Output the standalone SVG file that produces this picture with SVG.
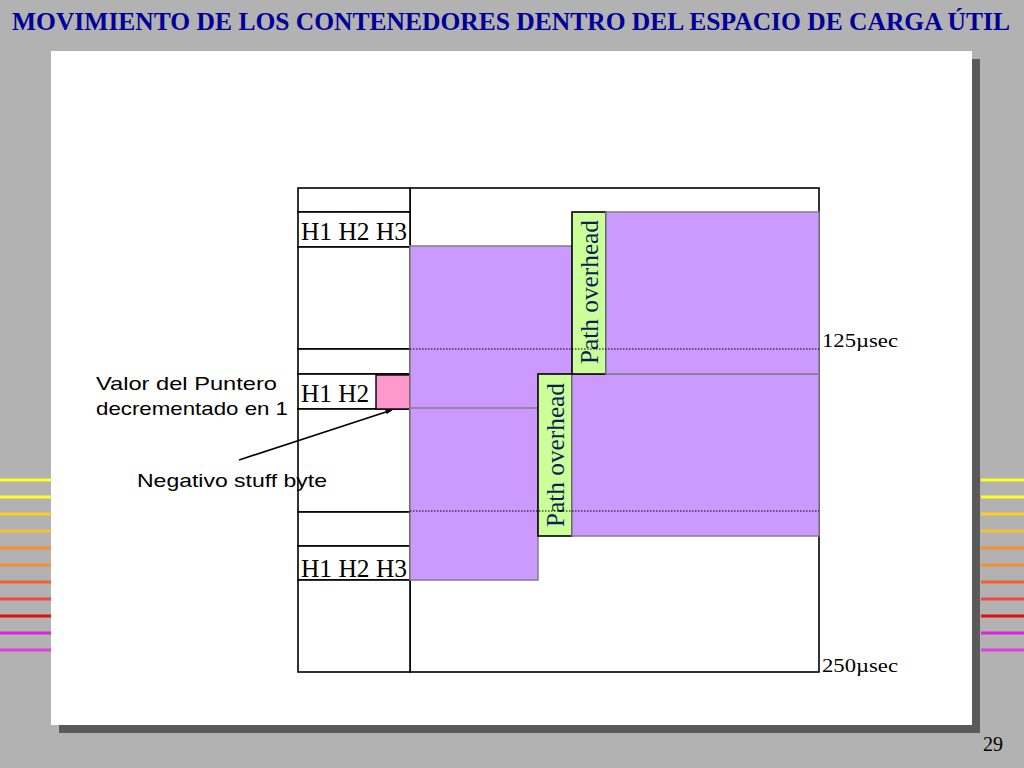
<svg xmlns="http://www.w3.org/2000/svg" width="1024" height="768" viewBox="0 0 1024 768">
<defs>
<style>
.serif{font-family:"Liberation Serif","Times New Roman",serif;fill:#000}
.sans{font-family:"Liberation Sans",Arial,sans-serif;font-size:19px;fill:#000}
.po{font-family:"Liberation Serif","Times New Roman",serif;font-size:25px;fill:#0a1f55}
.cell{fill:#fff;stroke:#000;stroke-width:1.6}
.purple{fill:#cc99ff;stroke:#7f7f8f;stroke-width:1.5}
.green{fill:#ccff99;stroke:#000;stroke-width:1.6}
.dot{stroke:#000;stroke-width:1.2;stroke-dasharray:1.5 1.5;fill:none}
</style>
<marker id="ah" viewBox="0 0 10 10" refX="9" refY="5" markerWidth="8" markerHeight="7" markerUnits="userSpaceOnUse" orient="auto">
<path d="M0,1.5 L10,5 L0,8.5 z" fill="#000"/>
</marker>
</defs>
<rect x="0" y="0" width="1024" height="768" fill="#b2b2b2"/>
<g id="stripes-left" stroke-width="3">
<line x1="0" y1="480" x2="51" y2="480" stroke="#ffff22"/>
<line x1="0" y1="497" x2="51" y2="497" stroke="#ffff22"/>
<line x1="0" y1="514" x2="51" y2="514" stroke="#ffcc22"/>
<line x1="0" y1="531" x2="51" y2="531" stroke="#f4c030"/>
<line x1="0" y1="548" x2="51" y2="548" stroke="#f49030"/>
<line x1="0" y1="565" x2="51" y2="565" stroke="#f49030"/>
<line x1="0" y1="582" x2="51" y2="582" stroke="#f46030"/>
<line x1="0" y1="599" x2="51" y2="599" stroke="#f04848"/>
<line x1="0" y1="616" x2="51" y2="616" stroke="#e01010"/>
<line x1="0" y1="633" x2="51" y2="633" stroke="#e020e0"/>
<line x1="0" y1="650" x2="51" y2="650" stroke="#e040e0"/>
</g>
<g id="stripes-right" stroke-width="3">
<line x1="981" y1="480" x2="1024" y2="480" stroke="#ffff22"/>
<line x1="981" y1="497" x2="1024" y2="497" stroke="#ffff22"/>
<line x1="981" y1="514" x2="1024" y2="514" stroke="#ffcc22"/>
<line x1="981" y1="531" x2="1024" y2="531" stroke="#f4c030"/>
<line x1="981" y1="548" x2="1024" y2="548" stroke="#f49030"/>
<line x1="981" y1="565" x2="1024" y2="565" stroke="#f49030"/>
<line x1="981" y1="582" x2="1024" y2="582" stroke="#f46030"/>
<line x1="981" y1="599" x2="1024" y2="599" stroke="#f04848"/>
<line x1="981" y1="616" x2="1024" y2="616" stroke="#e01010"/>
<line x1="981" y1="633" x2="1024" y2="633" stroke="#e020e0"/>
<line x1="981" y1="650" x2="1024" y2="650" stroke="#e040e0"/>
</g>
<g id="slide">
<rect x="59" y="59" width="921" height="674" fill="#5a5a5a"/>
<rect x="51" y="51" width="921" height="674" fill="#fff"/>
</g>
<text id="title" class="serif" x="12" y="30" font-size="25.5" font-weight="bold" style="fill:#000099" textLength="998" lengthAdjust="spacingAndGlyphs">MOVIMIENTO DE LOS CONTENEDORES DENTRO DEL ESPACIO DE CARGA ÚTIL</text>
<g id="frame-box">
<rect class="cell" x="410" y="188" width="409" height="484"/>
</g>
<g id="left-column">
<rect class="cell" x="298" y="188" width="112" height="24"/>
<rect class="cell" x="298" y="212" width="112" height="35"/>
<rect class="cell" x="298" y="247" width="112" height="102"/>
<rect class="cell" x="298" y="349" width="112" height="25"/>
<rect class="cell" x="298" y="374" width="112" height="35"/>
<rect class="cell" x="298" y="409" width="112" height="103"/>
<rect class="cell" x="298" y="512" width="112" height="34"/>
<rect class="cell" x="298" y="546" width="112" height="34"/>
<rect class="cell" x="298" y="580" width="112" height="92"/>
<text class="serif" x="301" y="240" font-size="25" textLength="106" lengthAdjust="spacingAndGlyphs">H1 H2 H3</text>
<text class="serif" x="301" y="402" font-size="25" textLength="68" lengthAdjust="spacingAndGlyphs">H1 H2</text>
<text class="serif" x="301" y="577" font-size="25" textLength="106" lengthAdjust="spacingAndGlyphs">H1 H2 H3</text>
</g>
<g id="stuff-byte">
<rect x="376" y="375" width="34" height="34" fill="#ff99cc" stroke="#000" stroke-width="1.4"/>
</g>
<g id="payload-frame1">
<rect class="purple" x="410" y="246" width="162" height="163"/>
</g>
<g id="payload-frame2">
<rect class="purple" x="410" y="408" width="128" height="172"/>
</g>
<g id="path-overhead-2">
<rect class="green" x="538" y="374" width="34" height="162"/>
<text class="po" transform="translate(564,527) rotate(-90)" textLength="144" lengthAdjust="spacingAndGlyphs">Path overhead</text>
</g>
<g id="payload-frame2-right">
<rect class="purple" x="572" y="374" width="247" height="162"/>
</g>
<g id="path-overhead-1">
<rect class="green" x="572" y="212" width="34" height="162"/>
<text class="po" transform="translate(598,364) rotate(-90)" textLength="144" lengthAdjust="spacingAndGlyphs">Path overhead</text>
</g>
<g id="payload-frame1-right">
<rect class="purple" x="606" y="212" width="213" height="162"/>
</g>
<g id="connectors">
<line class="dot" x1="410" y1="349" x2="819" y2="349"/>
<line class="dot" x1="410" y1="511" x2="819" y2="511"/>
<line x1="239" y1="460" x2="392" y2="410" stroke="#000" stroke-width="1.6" marker-end="url(#ah)"/>
</g>
<g id="labels">
<text class="serif" x="822" y="347" font-size="19" textLength="76" lengthAdjust="spacingAndGlyphs">125µsec</text>
<text class="serif" x="822" y="672" font-size="19" textLength="76" lengthAdjust="spacingAndGlyphs">250µsec</text>
<text class="sans" x="96" y="390" textLength="181" lengthAdjust="spacingAndGlyphs">Valor del Puntero</text>
<text class="sans" x="96" y="415" textLength="192" lengthAdjust="spacingAndGlyphs">decrementado en 1</text>
<text class="sans" x="137" y="487" textLength="190" lengthAdjust="spacingAndGlyphs">Negativo stuff byte</text>
<text class="serif" x="983" y="751" font-size="20">29</text>
</g>
</svg>
